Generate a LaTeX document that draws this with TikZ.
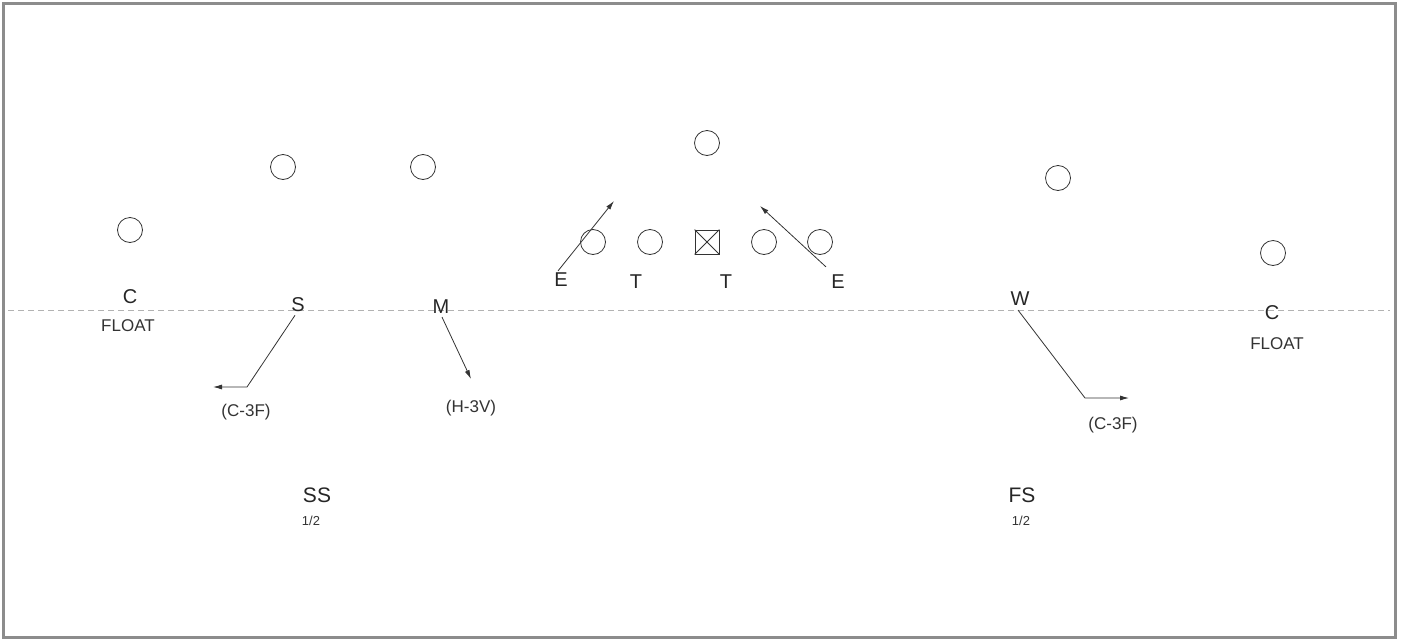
\documentclass[tikz,border=0pt]{standalone}
\usepackage{fontspec}
\setmainfont{Liberation Sans}
\usetikzlibrary{arrows.meta}
\begin{document}
\begin{tikzpicture}[x=1pt,y=-1pt,
  player/.style={circle,draw=black!80,line width=0.8pt,minimum size=25pt,inner sep=0pt},
  ctr/.style={rectangle,draw=black!80,line width=0.8pt,minimum size=24pt,inner sep=0pt},
  big/.style={font=\fontsize{20}{20}\selectfont,inner sep=0pt,text=black!85},
  small/.style={font=\fontsize{17}{17}\selectfont,inner sep=0pt,text=black!80},
  tiny/.style={font=\fontsize{13}{13}\selectfont,inner sep=0pt,text=black!80},
  route/.style={draw=black!80,line width=0.8pt,-{Latex[length=9pt,width=5pt]}}]
\useasboundingbox (0,0) rectangle (1413,640);
\draw[black!45,line width=3pt] (3,3) rectangle (1395,637);
% line of scrimmage
\draw[black!30,line width=0.6pt,dash pattern=on 6pt off 4pt] (8,310) -- (1390,310);
% offense
\node[player] (oc1) at (130,230) {};
\node[player] (o2) at (283,167) {};
\node[player] (o3) at (423,167) {};
\node[player] (qb) at (707,143) {};
\node[player] (o5) at (1058,178) {};
\node[player] (oc2) at (1273,253) {};
\node[player] (lt) at (593,242) {};
\node[player] (lg) at (650,242) {};
\node[ctr] (ce) at (707,242) {};
\draw[black!80,line width=0.8pt] (ce.north west) -- (ce.south east) (ce.north east) -- (ce.south west);
\node[player] (rg) at (764,242) {};
\node[player] (rt) at (820,242) {};
% defense
\node[big] (cl) at (130,297) {C};
\node[small] (fl) at (128,326) {FLOAT};
\node[big] (s) at (298,305) {S};
\node[big] (m) at (441,307) {M};
\node[big] (e1) at (561,280) {E};
\node[big] (t1) at (636,282) {T};
\node[big] (t2) at (726,282) {T};
\node[big] (e2) at (838,282) {E};
\node[big] (w) at (1020,299) {W};
\node[big] (cr) at (1272,313) {C};
\node[small] (fr) at (1277,344) {FLOAT};
\node[small] (l1) at (246,412) {(C-3F)};
\node[small] (l2) at (471,408) {(H-3V)};
\node[small] (l3) at (1113,425) {(C-3F)};
\node[big,font=\fontsize{21}{21}\selectfont] (ss) at (317,495) {SS};
\node[tiny] (ssh) at (311,521) {1/2};
\node[big,font=\fontsize{21}{21}\selectfont] (fs) at (1022,495) {FS};
\node[tiny] (fsh) at (1021,521) {1/2};
% routes
\coordinate (sa) at (247,387);
\coordinate (se) at (213,387);
\draw[route] (s.south) ++(-3,3) -- (sa) -- (se);
\coordinate (me) at (471,379);
\draw[route] (m.south) ++(1,3) -- (me);
\coordinate (e1e) at (614,201);
\draw[route] (e1.north) ++(-3,-2) -- (e1e);
\coordinate (e2e) at (760,206);
\draw[route] (e2.north) ++(-12,-8) -- (e2e);
\coordinate (wa) at (1085,398);
\coordinate (we) at (1129,398);
\draw[route] (w.south) ++(-2,4) -- (wa) -- (we);
\end{tikzpicture}
\end{document}
